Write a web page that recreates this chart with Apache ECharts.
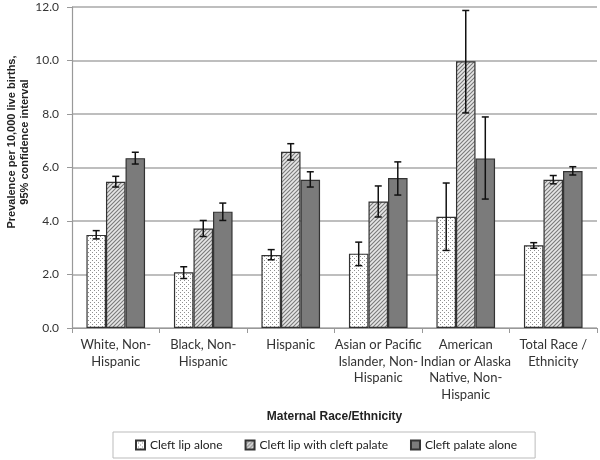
<!DOCTYPE html>
<html><head><meta charset="utf-8">
<script src="https://cdn.jsdelivr.net/npm/echarts@6/dist/echarts.min.js"></script>
<style>html,body{margin:0;padding:0;background:#fff}#c{width:600px;height:460px}</style>
</head><body><div id="c"></div>
<script>
const categories = ["White, Non-\nHispanic", "Black, Non-\nHispanic", "Hispanic", "Asian or Pacific\nIslander, Non-\nHispanic", "American\nIndian or Alaska\nNative, Non-\nHispanic", "Total Race /\nEthnicity"];
const seriesNames = ["Cleft lip alone", "Cleft lip with cleft palate", "Cleft palate alone"];
const lipAlone = [3.48, 2.08, 2.73, 2.78, 4.16, 3.09];
const lipAloneLow = [3.33, 1.85, 2.55, 2.33, 2.90, 2.98];
const lipAloneHigh = [3.64, 2.29, 2.93, 3.21, 5.42, 3.19];
const lipPalate = [5.47, 3.72, 6.59, 4.73, 9.97, 5.54];
const lipPalateLow = [5.27, 3.42, 6.28, 4.15, 8.04, 5.39];
const lipPalateHigh = [5.67, 4.02, 6.89, 5.31, 11.87, 5.70];
const palateAlone = [6.35, 4.35, 5.54, 5.61, 6.34, 5.87];
const palateAloneLow = [6.13, 4.02, 5.27, 4.97, 4.82, 5.72];
const palateAloneHigh = [6.57, 4.67, 5.84, 6.21, 7.89, 6.03];
const yTicks = [0, 2, 4, 6, 8, 10, 12];

function dotPattern() {
  const c = document.createElement('canvas'); c.width = 4; c.height = 4;
  const g = c.getContext('2d');
  g.fillStyle = '#ffffff'; g.fillRect(0, 0, 4, 4);
  g.fillStyle = '#8f8f8f'; g.fillRect(0, 0, 1, 1); g.fillRect(2, 2, 1, 1);
  return c;
}
function hatchPattern() {
  const s = 4;
  const c = document.createElement('canvas'); c.width = s; c.height = s;
  const g = c.getContext('2d');
  g.fillStyle = '#e6e6e6'; g.fillRect(0, 0, s, s);
  g.strokeStyle = '#7a7a7a'; g.lineWidth = 1.1;
  g.beginPath();
  g.moveTo(-1, s + 1); g.lineTo(s + 1, -1);
  g.moveTo(-1, 1); g.lineTo(1, -1);
  g.moveTo(s - 1, s + 1); g.lineTo(s + 1, s - 1);
  g.stroke();
  return c;
}

const GAP = 0.33;
const chart = echarts.init(document.getElementById('c'), null, {renderer: 'canvas'});
const fills = [
  {image: dotPattern(), repeat: 'repeat'},
  {image: hatchPattern(), repeat: 'repeat'},
  '#7b7b7b'
];
const vals = [lipAlone, lipPalate, palateAlone];
const lows = [lipAloneLow, lipPalateLow, palateAloneLow];
const highs = [lipAloneHigh, lipPalateHigh, palateAloneHigh];

const barSeries = seriesNames.map((n, k) => ({
  name: n, type: 'bar', data: vals[k], barGap: '0%', barCategoryGap: (GAP * 100) + '%',
  itemStyle: {color: fills[k], borderColor: '#333', borderWidth: 1.2},
  emphasis: {disabled: true}, z: 2
}));
const errSeries = seriesNames.map((n, k) => ({
  name: n + ' CI', type: 'custom', z: 5,
  data: categories.map((c, i) => [i, lows[k][i], highs[k][i]]),
  renderItem: function (params, api) {
    const ci = api.value(0);
    const lo = api.coord([ci, api.value(1)]);
    const hi = api.coord([ci, api.value(2)]);
    const bw = api.size([1, 0])[0];
    const barW = bw * (1 - GAP) / 3;
    const x = lo[0] + (k - 1) * barW;
    const cap = 3.5;
    const st = {stroke: '#111', lineWidth: 1.5};
    return {type: 'group', children: [
      {type: 'line', shape: {x1: x, y1: lo[1], x2: x, y2: hi[1]}, style: st},
      {type: 'line', shape: {x1: x - cap, y1: lo[1], x2: x + cap, y2: lo[1]}, style: st},
      {type: 'line', shape: {x1: x - cap, y1: hi[1], x2: x + cap, y2: hi[1]}, style: st}
    ]};
  }
}));

const FONT = 'Lato';
chart.setOption({
  animation: false,
  backgroundColor: '#fff',
  grid: {left: 72, right: 3, top: 7, bottom: 132, containLabel: false},
  xAxis: {
    type: 'category', data: categories,
    axisLine: {lineStyle: {color: '#999', width: 1.2}},
    axisTick: {show: true, length: 5, alignWithLabel: false, lineStyle: {color: '#999'}},
    axisLabel: {interval: 0, color: '#333', fontFamily: FONT, fontSize: 13, lineHeight: 16.5, margin: 9},
    name: 'Maternal Race/Ethnicity', nameLocation: 'middle', nameGap: 83,
    nameTextStyle: {fontFamily: 'Liberation Sans', fontWeight: 'bold', fontSize: 12, color: '#222'}
  },
  yAxis: {
    type: 'value', min: 0, max: 12, interval: 2,
    axisLine: {show: true, lineStyle: {color: '#999', width: 1.2}},
    axisTick: {show: true, length: 5, lineStyle: {color: '#999'}},
    axisLabel: {color: '#333', fontFamily: FONT, fontSize: 12, margin: 13, formatter: v => yTicks.indexOf(v) >= 0 ? v.toFixed(1) : ''},
    splitLine: {lineStyle: {color: '#a8a8a8', width: 1.5}}
  },
  legend: {
    data: seriesNames, left: 113, top: 432, orient: 'horizontal',
    borderColor: '#bbb', borderWidth: 1, padding: [7, 18, 7, 22], itemGap: 22,
    itemWidth: 9, itemHeight: 9, icon: 'rect',
    textStyle: {fontFamily: FONT, fontSize: 12, color: '#222'},
    selectedMode: false
  },
  graphic: [{
    type: 'text', x: 18, y: 142, rotation: Math.PI / 2,
    style: {text: 'Prevalence per 10,000 live births,\n95% confidence interval', fontFamily: 'Liberation Sans', fontWeight: 'bold', fontSize: 11, fill: '#222', align: 'center', verticalAlign: 'middle', lineHeight: 13}
  }],
  series: barSeries.concat(errSeries)
});
</script></body></html>
